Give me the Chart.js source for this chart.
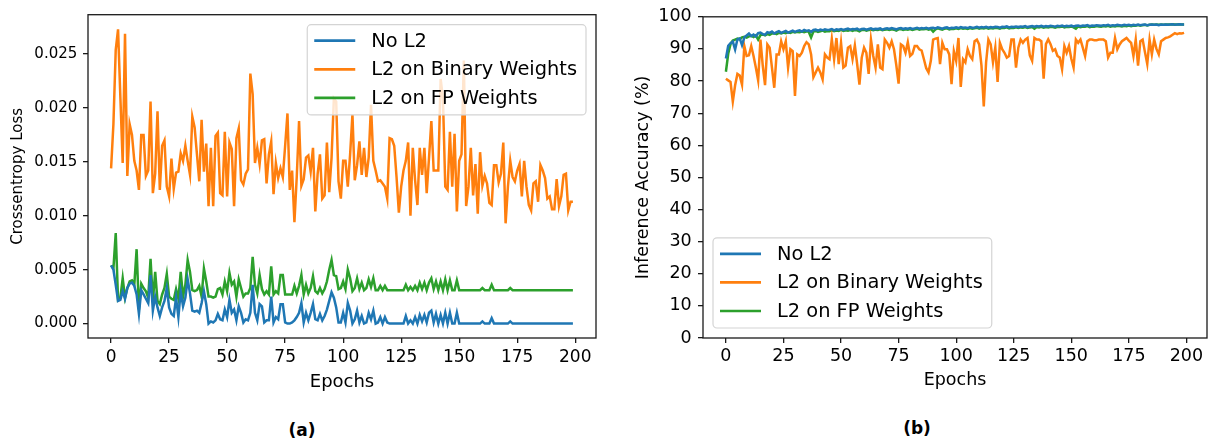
<!DOCTYPE html>
<html>
<head>
<meta charset="utf-8">
<script src="https://cdn.jsdelivr.net/npm/chart.js@4.4.1/dist/chart.umd.min.js"></script>
<style>
  html, body { margin: 0; padding: 0; background: #fff; }
  body { width: 1217px; height: 445px; position: relative; overflow: hidden; font-family: 'DejaVu Sans', sans-serif; }
  .panel { position: absolute; top: 0; height: 400px; }
  #panelA { left: 0; width: 608px; }
  #panelB { left: 608px; width: 609px; }
  .caption { position: absolute; font-weight: bold; font-size: 17px; color: #000; transform: translate(-50%, -50%); }
</style>
</head>
<body>
<div class="panel" id="panelA"><canvas id="lossChart"></canvas></div>
<div class="panel" id="panelB"><canvas id="accChart"></canvas></div>
<div class="caption" style="left:302px; top:430px">(a)</div>
<div class="caption" style="left:917px; top:428px">(b)</div>
<script>
// ========== Data ==========
const seriesNames = ['No L2', 'L2 on Binary Weights', 'L2 on FP Weights'];
const epochTicks = [0, 25, 50, 75, 100, 125, 150, 175, 200];
const lossTicks = [0, 0.005, 0.010, 0.015, 0.020, 0.025];
const accTicks = [0, 10, 20, 30, 40, 50, 60, 70, 80, 90, 100];

// crossentropy loss per epoch
const lossNoL2 = [
  0.0054, 0.0050, 0.0036, 0.0021, 0.0022, 0.0030, 0.0023, 0.0033, 0.0037, 0.0038,
  0.0035, 0.0027, 0.0009, 0.0031, 0.0027, 0.0023, 0.0019, 0.0045, 0.0012, 0.0025,
  0.0015, 0.0007, 0.0015, 0.0021, 0.0033, 0.0015, 0.0009, 0.0007, 0.0024, 0.0006,
  0.0030, 0.0016, 0.0024, 0.0041, 0.0028, 0.0012, 0.0011, 0.0012, 0.0010, 0.0019,
  0.0030, 0.0018, 0.0000, 0.0002, 0.0001, 0.0003, 0.0009, 0.0004, 0.0003, 0.0013,
  0.0006, 0.0022, 0.0010, 0.0013, 0.0003, 0.0016, 0.0010, 0.0001, 0.0004, 0.0003,
  0.0010, 0.0036, 0.0010, 0.0003, 0.0018, 0.0016, 0.0001, 0.0003, 0.0003, 0.0025,
  0.0001, 0.0006, 0.0004, 0.0018, 0.0018, 0.0001, 0.0000, 0.0000, 0.0001, 0.0003,
  0.0006, 0.0010, 0.0019, 0.0001, 0.0010, 0.0003, 0.0010, 0.0018, 0.0004, 0.0003,
  0.0009, 0.0003, 0.0007, 0.0013, 0.0021, 0.0029, 0.0024, 0.0015, 0.0001, 0.0001,
  0.0010, 0.0001, 0.0019, 0.0012, 0.0000, 0.0004, 0.0012, 0.0001, 0.0007, 0.0000,
  0.0001, 0.0010, 0.0004, 0.0012, 0.0000, 0.0001, 0.0006, 0.0000, 0.0006, 0.0001,
  0.0000, 0.0000, 0.0000, 0.0000, 0.0000, 0.0000, 0.0000, 0.0007, 0.0000, 0.0003,
  0.0000, 0.0006, 0.0000, 0.0008, 0.0002, 0.0008, 0.0001, 0.0010, 0.0012, 0.0001,
  0.0009, 0.0000, 0.0008, 0.0000, 0.0010, 0.0000, 0.0010, 0.0000, 0.0000, 0.0010,
  0.0000, 0.0000, 0.0000, 0.0000, 0.0000, 0.0000, 0.0000, 0.0000, 0.0000, 0.0000,
  0.0002, 0.0000, 0.0000, 0.0000, 0.0005, 0.0000, 0.0000, 0.0000, 0.0000, 0.0000,
  0.0000, 0.0000, 0.0002, 0.0000, 0.0000, 0.0000, 0.0000, 0.0000, 0.0000, 0.0000,
  0.0000, 0.0000, 0.0000, 0.0000, 0.0000, 0.0000, 0.0000, 0.0000, 0.0000, 0.0000,
  0.0000, 0.0000, 0.0000, 0.0000, 0.0000, 0.0000, 0.0000, 0.0000, 0.0000, 0.0000
];
const lossBinaryL2 = [
  0.0144, 0.0185, 0.0254, 0.0273, 0.0210, 0.0149, 0.0269, 0.0137, 0.0185, 0.0175,
  0.0151, 0.0142, 0.0124, 0.0175, 0.0175, 0.0137, 0.0142, 0.0206, 0.0121, 0.0139,
  0.0197, 0.0124, 0.0165, 0.0170, 0.0127, 0.0118, 0.0153, 0.0125, 0.0140, 0.0141,
  0.0158, 0.0151, 0.0165, 0.0151, 0.0138, 0.0192, 0.0182, 0.0157, 0.0132, 0.0189,
  0.0141, 0.0167, 0.0109, 0.0163, 0.0109, 0.0174, 0.0177, 0.0121, 0.0119, 0.0178,
  0.0118, 0.0168, 0.0162, 0.0109, 0.0172, 0.0181, 0.0133, 0.0129, 0.0139, 0.0143,
  0.0232, 0.0213, 0.0149, 0.0163, 0.0148, 0.0170, 0.0171, 0.0130, 0.0157, 0.0169,
  0.0120, 0.0149, 0.0135, 0.0144, 0.0136, 0.0165, 0.0195, 0.0124, 0.0142, 0.0094,
  0.0136, 0.0188, 0.0128, 0.0134, 0.0154, 0.0156, 0.0141, 0.0163, 0.0104, 0.0139,
  0.0157, 0.0116, 0.0119, 0.0168, 0.0122, 0.0154, 0.0209, 0.0206, 0.0132, 0.0116,
  0.0151, 0.0151, 0.0127, 0.0157, 0.0194, 0.0133, 0.0147, 0.0169, 0.0138, 0.0163,
  0.0136, 0.0154, 0.0203, 0.0151, 0.0142, 0.0132, 0.0133, 0.0130, 0.0127, 0.0116,
  0.0172, 0.0171, 0.0165, 0.0136, 0.0103, 0.0127, 0.0142, 0.0151, 0.0168, 0.0100,
  0.0163, 0.0133, 0.0110, 0.0163, 0.0138, 0.0163, 0.0121, 0.0154, 0.0188, 0.0142,
  0.0142, 0.0142, 0.0227, 0.0209, 0.0127, 0.0124, 0.0178, 0.0127, 0.0176, 0.0104,
  0.0151, 0.0157, 0.0244, 0.0109, 0.0127, 0.0163, 0.0119, 0.0148, 0.0102, 0.0159,
  0.0128, 0.0137, 0.0130, 0.0112, 0.0110, 0.0147, 0.0147, 0.0131, 0.0139, 0.0168,
  0.0093, 0.0127, 0.0151, 0.0136, 0.0132, 0.0142, 0.0148, 0.0118, 0.0151, 0.0127,
  0.0110, 0.0105, 0.0130, 0.0132, 0.0113, 0.0147, 0.0142, 0.0135, 0.0116, 0.0118,
  0.0106, 0.0106, 0.0134, 0.0109, 0.0118, 0.0138, 0.0139, 0.0105, 0.0113, 0.0113
];
const lossFpL2 = [
  0.0054, 0.0051, 0.0084, 0.0022, 0.0024, 0.0042, 0.0024, 0.0033, 0.0039, 0.0040,
  0.0036, 0.0069, 0.0013, 0.0037, 0.0033, 0.0030, 0.0024, 0.0060, 0.0021, 0.0048,
  0.0021, 0.0018, 0.0027, 0.0033, 0.0046, 0.0025, 0.0023, 0.0022, 0.0032, 0.0023,
  0.0048, 0.0025, 0.0036, 0.0059, 0.0048, 0.0031, 0.0030, 0.0031, 0.0035, 0.0025,
  0.0051, 0.0039, 0.0025, 0.0025, 0.0024, 0.0025, 0.0032, 0.0033, 0.0027, 0.0039,
  0.0030, 0.0047, 0.0036, 0.0039, 0.0025, 0.0041, 0.0033, 0.0025, 0.0028, 0.0028,
  0.0033, 0.0062, 0.0036, 0.0028, 0.0045, 0.0032, 0.0027, 0.0030, 0.0027, 0.0053,
  0.0027, 0.0030, 0.0028, 0.0045, 0.0045, 0.0027, 0.0027, 0.0027, 0.0027, 0.0035,
  0.0028, 0.0035, 0.0045, 0.0027, 0.0036, 0.0028, 0.0033, 0.0044, 0.0030, 0.0028,
  0.0033, 0.0028, 0.0032, 0.0039, 0.0050, 0.0059, 0.0045, 0.0044, 0.0032, 0.0033,
  0.0039, 0.0032, 0.0050, 0.0042, 0.0030, 0.0033, 0.0042, 0.0032, 0.0038, 0.0031,
  0.0033, 0.0041, 0.0034, 0.0042, 0.0031, 0.0031, 0.0035, 0.0031, 0.0035, 0.0031,
  0.0031, 0.0031, 0.0031, 0.0031, 0.0031, 0.0031, 0.0031, 0.0036, 0.0031, 0.0034,
  0.0031, 0.0035, 0.0031, 0.0038, 0.0032, 0.0038, 0.0031, 0.0038, 0.0042, 0.0032,
  0.0039, 0.0031, 0.0039, 0.0031, 0.0041, 0.0031, 0.0040, 0.0031, 0.0031, 0.0040,
  0.0031, 0.0031, 0.0031, 0.0031, 0.0031, 0.0031, 0.0031, 0.0031, 0.0031, 0.0031,
  0.0033, 0.0031, 0.0031, 0.0031, 0.0036, 0.0031, 0.0031, 0.0031, 0.0031, 0.0031,
  0.0031, 0.0031, 0.0033, 0.0031, 0.0031, 0.0031, 0.0031, 0.0031, 0.0031, 0.0031,
  0.0031, 0.0031, 0.0031, 0.0031, 0.0031, 0.0031, 0.0031, 0.0031, 0.0031, 0.0031,
  0.0031, 0.0031, 0.0031, 0.0031, 0.0031, 0.0031, 0.0031, 0.0031, 0.0031, 0.0031
];

// inference accuracy (%) per epoch
const accNoL2 = [
  87.0, 91.0, 91.8, 92.3, 89.8, 93.0, 93.3, 91.2, 93.6, 94.2,
  94.8, 94.0, 94.5, 93.9, 94.9, 95.1, 94.6, 94.4, 95.2, 95.0,
  95.4, 94.8, 95.2, 95.5, 95.0, 95.3, 95.6, 95.1, 95.4, 95.7,
  95.3, 95.6, 95.8, 95.4, 95.9, 95.6, 95.8, 95.3, 95.9, 96.0,
  95.7, 96.0, 95.8, 96.1, 95.9, 96.0, 96.2, 95.8, 96.1, 96.0,
  96.2, 95.9, 96.1, 96.3, 96.0, 96.2, 96.1, 96.3, 95.9, 96.2,
  96.3, 96.0, 96.2, 96.4, 96.1, 96.3, 96.2, 96.4, 96.0, 96.3,
  96.4, 96.2, 96.5, 96.3, 96.1, 96.4, 96.5, 96.2, 96.4, 96.3,
  96.5, 96.2, 96.4, 96.6, 96.3, 96.5, 96.4, 96.6, 96.3, 96.5,
  96.6, 96.4, 96.7, 96.5, 96.3, 96.6, 96.7, 96.4, 96.6, 96.5,
  96.7, 96.5, 96.8, 96.6, 96.7, 96.5, 96.8, 96.6, 96.7, 96.9,
  96.6, 96.8, 96.7, 96.9, 96.6, 96.8, 96.7, 96.9, 96.8, 96.6,
  96.9, 96.8, 97.0, 96.7, 96.9, 96.8, 97.0, 96.8, 97.0, 96.9,
  97.1, 96.8, 97.0, 97.1, 96.9, 97.1, 97.0, 97.2, 96.9, 97.1,
  97.0, 97.2, 97.1, 96.9, 97.2, 97.1, 97.3, 97.0, 97.2, 97.1,
  97.3, 97.0, 97.2, 97.3, 97.1, 97.3, 97.2, 97.4, 97.1, 97.3,
  97.2, 97.4, 97.3, 97.2, 97.4, 97.3, 97.5, 97.2, 97.4, 97.3,
  97.5, 97.4, 97.3, 97.5, 97.4, 97.5, 97.3, 97.5, 97.4, 97.6,
  97.4, 97.5, 97.6, 97.4, 97.5, 97.6, 97.5, 97.6, 97.4, 97.6,
  97.5, 97.6, 97.5, 97.6, 97.7, 97.5, 97.6, 97.7, 97.6, 97.6
];
const accBinaryL2 = [
  80.7, 80.2, 79.7, 73.6, 78.7, 82.2, 81.7, 78.9, 90.9, 87.8,
  88.0, 90.9, 87.8, 84.2, 80.2, 92.9, 84.8, 78.7, 91.4, 90.4,
  84.2, 77.9, 88.3, 88.3, 92.4, 89.9, 92.4, 84.2, 89.9, 89.3,
  75.4, 88.3, 87.8, 88.8, 90.9, 92.1, 91.4, 88.3, 81.2, 82.7,
  84.2, 82.7, 80.5, 88.3, 87.3, 86.8, 93.1, 86.8, 93.4, 85.3,
  91.9, 84.2, 84.8, 90.4, 90.9, 86.8, 91.1, 85.3, 78.9, 87.3,
  90.4, 88.8, 82.2, 92.9, 87.8, 84.2, 91.4, 84.2, 83.7, 92.9,
  91.9, 90.4, 92.4, 89.9, 85.0, 79.2, 91.4, 90.9, 88.8, 92.1,
  87.8, 88.5, 90.9, 90.9, 89.9, 89.5, 86.8, 84.0, 82.7, 86.3,
  92.9, 93.2, 93.4, 85.3, 91.9, 89.9, 89.9, 88.3, 79.0, 89.3,
  86.3, 93.4, 78.2, 86.8, 85.8, 89.9, 87.8, 86.8, 92.4, 92.9,
  91.4, 84.8, 72.1, 85.8, 92.9, 91.4, 85.8, 90.4, 79.7, 91.9,
  89.9, 88.8, 87.3, 87.8, 92.9, 92.9, 84.2, 90.4, 92.9, 91.9,
  92.9, 93.4, 88.0, 86.3, 93.4, 92.9, 92.9, 92.4, 80.7, 91.5,
  93.0, 91.5, 89.4, 89.9, 87.8, 87.3, 83.7, 90.9, 88.8, 90.9,
  87.0, 84.2, 92.9, 91.9, 92.9, 90.4, 87.8, 92.4, 92.9, 92.9,
  92.7, 92.7, 92.9, 92.9, 92.9, 92.4, 87.3, 88.8, 88.8, 93.4,
  89.9, 91.4, 92.4, 92.9, 93.4, 92.6, 91.9, 87.8, 92.9, 84.8,
  92.4, 92.9, 89.0, 85.3, 92.9, 88.3, 92.9, 90.0, 88.3, 92.4,
  92.9, 93.4, 93.6, 93.9, 94.4, 94.9, 94.6, 94.9, 94.8, 95.0
];
const accFpL2 = [
  82.9, 88.5, 91.5, 92.6, 92.9, 93.2, 93.0, 93.6, 93.8, 93.5,
  93.9, 94.1, 93.7, 94.2, 92.9, 94.3, 94.5, 94.2, 94.6, 94.4,
  94.8, 94.9, 94.6, 95.0, 94.8, 95.1, 94.9, 95.2, 95.0, 95.3,
  95.1, 95.3, 95.2, 95.4, 95.2, 95.5, 95.3, 93.6, 95.4, 95.6,
  95.3, 95.5, 95.7, 95.4, 95.6, 95.5, 95.8, 95.5, 95.7, 95.6,
  95.9, 95.6, 95.8, 95.7, 95.9, 95.6, 95.9, 95.8, 95.5, 95.9,
  96.0, 95.7, 95.9, 96.0, 95.8, 96.0, 95.9, 96.1, 95.8, 96.0,
  96.1, 95.9, 96.1, 96.0, 95.7, 96.1, 96.2, 95.9, 96.1, 96.0,
  96.2, 95.9, 96.1, 96.3, 96.0, 96.2, 96.1, 96.3, 96.0, 96.2,
  95.4, 96.1, 96.4, 96.2, 96.0, 96.3, 96.4, 96.1, 96.3, 96.2,
  96.4, 96.2, 96.5, 96.3, 96.4, 96.2, 96.5, 96.3, 96.4, 96.6,
  96.3, 96.5, 96.4, 96.6, 96.3, 96.5, 96.4, 96.6, 96.5, 96.3,
  96.6, 96.5, 96.7, 96.4, 96.6, 96.5, 96.7, 96.5, 96.7, 96.6,
  96.8, 96.5, 96.7, 96.8, 96.3, 96.8, 96.7, 96.9, 96.6, 96.8,
  96.7, 96.9, 96.8, 96.6, 96.9, 96.8, 97.0, 96.7, 96.9, 96.8,
  97.0, 96.7, 96.3, 97.0, 96.8, 97.0, 96.9, 97.1, 96.8, 97.0,
  96.9, 97.1, 97.0, 96.9, 97.1, 97.0, 97.2, 96.9, 97.1, 97.0,
  97.2, 97.1, 97.0, 97.2, 97.1, 97.3, 97.1, 97.3, 97.2, 97.4,
  97.2, 97.4, 97.5, 97.3, 97.5, 97.6, 97.5, 97.6, 97.5, 97.6,
  97.5, 97.6, 97.6, 97.6, 97.7, 97.6, 97.6, 97.7, 97.6, 97.6
];

const epochs = lossNoL2.map((_, i) => i);

// ========== Styling helpers ==========
const FONT = 'DejaVu Sans';
const INK = '#1a1a1a';
const COLORS = ['#1f77b4', '#ff7f0e', '#2ca02c'];

function lineSet(label, data, color) {
  return { label, data, borderColor: color, backgroundColor: color, borderWidth: 2.5, pointRadius: 0, pointHoverRadius: 0, tension: 0, fill: false };
}

function fixedTicks(values) {
  return axis => { axis.ticks = values.map(v => ({ value: v })); };
}

// closed box round the plot area
const frame = {
  id: 'frame',
  afterDatasetsDraw(chart) {
    const { ctx, chartArea: a } = chart;
    ctx.save();
    ctx.strokeStyle = INK;
    ctx.lineWidth = 1.3;
    ctx.strokeRect(a.left, a.top, a.right - a.left, a.bottom - a.top);
    ctx.restore();
  }
};

// framed legend drawn inside the plot, in the given corner
function boxLegend(corner) {
  return {
    id: 'boxLegend',
    afterDraw(chart) {
      const { ctx, chartArea: a } = chart;
      const sets = chart.data.datasets;
      ctx.save();
      ctx.font = `19.4px "${FONT}"`;
      const textW = Math.max(...sets.map(d => ctx.measureText(d.label).width));
      const rowH = 28.6;
      const w = 7 + 41 + 16 + textW + 9;
      const h = 16 + rowH * (sets.length - 1) + 17;
      const x0 = corner === 'ne' ? a.right - 10 - w : a.left + 10;
      const y0 = corner === 'ne' ? a.top + 10 : a.bottom - 10 - h;
      ctx.beginPath();
      ctx.roundRect(x0, y0, w, h, 4);
      ctx.fillStyle = 'rgba(255,255,255,0.8)';
      ctx.fill();
      ctx.strokeStyle = '#d4d4d4';
      ctx.lineWidth = 1.2;
      ctx.stroke();
      ctx.textBaseline = 'middle';
      sets.forEach((d, i) => {
        const y = y0 + 16 + i * rowH;
        ctx.strokeStyle = d.borderColor;
        ctx.lineWidth = 2.7;
        ctx.beginPath();
        ctx.moveTo(x0 + 7, y);
        ctx.lineTo(x0 + 48, y);
        ctx.stroke();
        ctx.fillStyle = '#000';
        ctx.fillText(d.label, x0 + 64, y + 1);
      });
      ctx.restore();
    }
  };
}

function epochAxis(tickSize, tickPad, titleSize, titlePad) {
  return {
    type: 'linear', min: -9.95, max: 208.95,
    afterBuildTicks: fixedTicks(epochTicks),
    afterFit: axis => { axis.height = 62; },
    border: { display: false },
    grid: { drawOnChartArea: false, tickLength: 5, color: INK, lineWidth: 1.3 },
    ticks: { color: '#000', padding: tickPad, maxRotation: 0, autoSkip: false, font: { family: FONT, size: tickSize } },
    title: { display: true, text: 'Epochs', color: '#000', font: { family: FONT, size: titleSize }, padding: { top: 0, bottom: titlePad } }
  };
}

function baseOptions(padding) {
  return {
    responsive: true, maintainAspectRatio: false, animation: false,
    layout: { padding },
    plugins: { legend: { display: false }, tooltip: { enabled: false } }
  };
}

// ========== Charts ==========
new Chart(document.getElementById('lossChart'), {
  type: 'line',
  data: {
    labels: epochs,
    datasets: [
      lineSet(seriesNames[0], lossNoL2, COLORS[0]),
      lineSet(seriesNames[1], lossBinaryL2, COLORS[1]),
      lineSet(seriesNames[2], lossFpL2, COLORS[2]),
    ]
  },
  options: {
    ...baseOptions({ top: 8, right: 12, bottom: 0, left: 0 }),
    scales: {
      x: epochAxis(17, 4.3, 18, 6.8),
      y: {
        min: -0.00134, max: 0.02866,
        afterBuildTicks: fixedTicks(lossTicks),
        afterFit: axis => { axis.width = 88; },
        border: { display: false },
        grid: { drawOnChartArea: false, tickLength: 5, color: INK, lineWidth: 1.3 },
        ticks: { color: '#000', padding: 5.7, font: { family: FONT, size: 15 }, callback: v => v.toFixed(3) },
        title: { display: true, text: 'Crossentropy Loss', color: '#000', font: { family: FONT, size: 15 }, padding: { top: 9.3, bottom: 0 } }
      }
    }
  },
  plugins: [frame, boxLegend('ne')]
});

new Chart(document.getElementById('accChart'), {
  type: 'line',
  data: {
    labels: epochs,
    datasets: [
      lineSet(seriesNames[0], accNoL2, COLORS[0]),
      lineSet(seriesNames[1], accBinaryL2, COLORS[1]),
      lineSet(seriesNames[2], accFpL2, COLORS[2]),
    ]
  },
  options: {
    ...baseOptions({ top: 10.5, right: 10, bottom: 0, left: 0 }),
    scales: {
      x: epochAxis(17.5, 3.2, 17.5, 9.5),
      y: {
        min: 0, max: 100,
        afterBuildTicks: fixedTicks(accTicks),
        afterFit: axis => { axis.width = 95; },
        border: { display: false },
        grid: { drawOnChartArea: false, tickLength: 5, color: INK, lineWidth: 1.3 },
        ticks: { color: '#000', padding: 6.3, font: { family: FONT, size: 17.5 } },
        title: { display: true, text: 'Inference Accuracy (%)', color: '#000', font: { family: FONT, size: 17.5 }, padding: { top: 24.5, bottom: 0 } }
      }
    }
  },
  plugins: [frame, boxLegend('sw')]
});
</script>
</body>
</html>
